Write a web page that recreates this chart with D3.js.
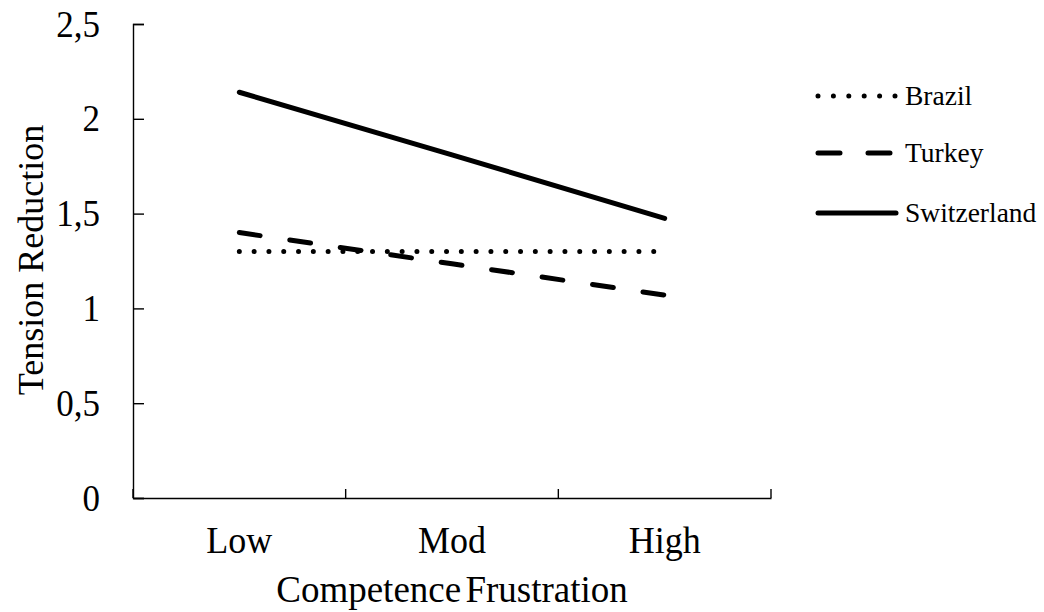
<!DOCTYPE html>
<html>
<head>
<meta charset="utf-8">
<script src="https://cdn.jsdelivr.net/npm/d3@7/dist/d3.min.js"></script>
<style>
  html, body { margin: 0; padding: 0; background: #fff; }
  svg { display: block; }
  text { font-family: "Liberation Serif", "Times New Roman", serif; fill: #000; }
</style>
</head>
<body>
<svg id="chart" width="1044" height="612"></svg>
<script>
const categories = ["Low", "Mod", "High"];
const seriesNames = ["Brazil", "Turkey", "Switzerland"];
const brazil = [1.30, 1.30, 1.30];
const turkey = [1.40, 1.235, 1.07];
const switzerland = [2.14, 1.81, 1.475];
const yTicks = [0, 0.5, 1, 1.5, 2, 2.5];
const yTickLabels = ["0", "0,5", "1", "1,5", "2", "2,5"];
const xTitle = "Competence Frustration";
const yTitle = "Tension Reduction";

const seriesValues = [brazil, turkey, switzerland];
const dashStyles = ["0 14.8", "21 30", null];

const svg = d3.select("#chart");
const plotLeft = 133, plotRight = 771, plotTop = 24, plotBottom = 498;

const x = d3.scaleBand().domain(categories).range([plotLeft, plotRight]).padding(0);
const y = d3.scaleLinear().domain([0, 2.5]).range([plotBottom, plotTop]);

// Y axis
const yStretch = 1.1;
const yAxis = svg.append("g").attr("transform", `translate(${plotLeft},0)`)
  .call(d3.axisLeft(y).tickValues(yTicks).tickSize(-11).tickPadding(33)
    .tickFormat((d, i) => yTickLabels[i]));
yAxis.select(".domain").attr("stroke", "#000").attr("stroke-width", 1.4);
yAxis.selectAll(".tick line").attr("stroke", "#000").attr("stroke-width", 1.4);
yAxis.selectAll(".tick text")
  .attr("font-size", 35).attr("font-family", "Liberation Serif")
  .attr("dy", null).attr("y", 12 / yStretch)
  .attr("transform", `scale(1,${yStretch})`);

// X axis line and boundary ticks
const xStretch = 1.06;
const xAxis = svg.append("g").attr("transform", `translate(0,${plotBottom})`)
  .call(d3.axisBottom(x).tickSize(0));
xAxis.select(".domain").attr("stroke", "#000").attr("stroke-width", 1.4);
xAxis.selectAll(".tick text")
  .attr("font-size", 36).attr("font-family", "Liberation Serif")
  .attr("dy", null).attr("y", 55 / xStretch)
  .attr("transform", `scale(1,${xStretch})`);
const bounds = categories.map(c => x(c)).concat([x.range()[1]]);
svg.append("g").selectAll("line").data(bounds).join("line")
  .attr("x1", d => d).attr("x2", d => d)
  .attr("y1", plotBottom).attr("y2", plotBottom - 9)
  .attr("stroke", "#000").attr("stroke-width", 1.4);

// Titles
svg.append("text")
  .attr("x", 452).attr("y", 602)
  .attr("text-anchor", "middle").attr("font-size", 37)
  .attr("word-spacing", -5)
  .text(xTitle);
svg.append("text")
  .attr("transform", `translate(43,260) rotate(-90)`)
  .attr("text-anchor", "middle").attr("font-size", 36)
  .text(yTitle);

// Lines
const line = d3.line()
  .x((d, i) => x(categories[i]) + x.bandwidth() / 2)
  .y(d => y(d));

seriesValues.forEach((vals, k) => {
  const p = svg.append("path")
    .datum(vals)
    .attr("d", line)
    .attr("fill", "none")
    .attr("stroke", "#000")
    .attr("stroke-width", 5)
    .attr("stroke-linecap", "round");
  if (dashStyles[k]) p.attr("stroke-dasharray", dashStyles[k]);
});

// Legend
const legendY = [96, 153, 213];
const legendDash = ["0 15.4", "22 28", null];
const lg = svg.append("g");
seriesNames.forEach((name, k) => {
  const l = lg.append("line")
    .attr("x1", 818).attr("x2", 896)
    .attr("y1", legendY[k]).attr("y2", legendY[k])
    .attr("stroke", "#000").attr("stroke-width", 5)
    .attr("stroke-linecap", "round");
  if (legendDash[k]) l.attr("stroke-dasharray", legendDash[k]);
  lg.append("text")
    .attr("x", 905).attr("y", legendY[k] + 9)
    .attr("font-size", 27.5)
    .text(name);
});
</script>
</body>
</html>
